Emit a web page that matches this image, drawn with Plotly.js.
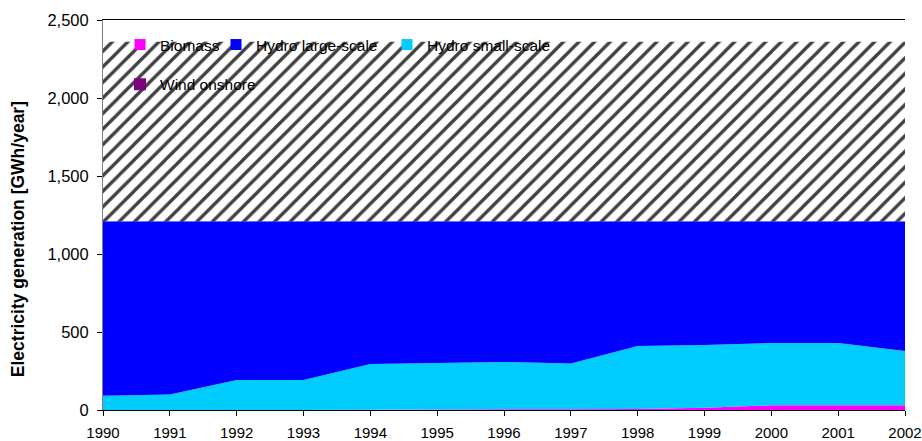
<!DOCTYPE html>
<html>
<head>
<meta charset="utf-8">
<script src="https://cdn.plot.ly/plotly-3.0.1.min.js"></script>
<style>html,body{margin:0;padding:0;background:#fff;}#chart{width:922px;height:441px;}</style>
</head>
<body>
<div id="chart"></div>
<script>
const years = [1990,1991,1992,1993,1994,1995,1996,1997,1998,1999,2000,2001,2002];
const biomass = [0,0,0,0,1,3,5,5,7,15,30,30,30];
const windOnshore = [0,0,0,0,0,0,0,0,0,0,0,0,0];
const hydroSmall = [92,100,192,192,294,298,303,293,403,402,400,400,348];
const hydroLarge = [1118,1110,1018,1018,915,909,902,912,800,793,780,780,832];
const potential = [1150,1150,1150,1150,1150,1150,1150,1150,1150,1150,1150,1150,1150];
const yTicks = [0,500,1000,1500,2000,2500];
const yTitle = 'Electricity generation [GWh/year]';

const FONT = 'Liberation Sans, Arial, sans-serif';
const colors = {biomass:'#FF00FF', large:'#0000FF', small:'#00CCFF', wind:'#800080'};

function area(name, y, color, extra) {
  return Object.assign({
    type:'scatter', x:years, y:y, name:name, stackgroup:'one', mode:'none',
    fillcolor:color, showlegend:false, hoverinfo:'skip', line:{width:0}
  }, extra || {});
}
function legendItem(name, color, legendId, size) {
  return {type:'scatter', x:[null], y:[null], mode:'markers', name:name,
    marker:{symbol:'square', color:color, size:size}, legend:legendId, showlegend:true};
}

const data = [
  area('Biomass', biomass, colors.biomass),
  area('Wind onshore', windOnshore, colors.wind),
  area('Hydro small-scale', hydroSmall, colors.small),
  area('Hydro large-scale', hydroLarge, colors.large),
  area('Potential', potential, '#ffffff', {fillpattern:{shape:'/', size:11, solidity:0.3, fgcolor:'#404040', bgcolor:'#ffffff'}}),
  legendItem('Biomass', colors.biomass, 'legend', 11),
  legendItem('Hydro large-scale', colors.large, 'legend2', 11),
  legendItem('Hydro small-scale', colors.small, 'legend3', 11),
  legendItem('Wind onshore', colors.wind, 'legend4', 12)
];

function lg(x, y) {
  return {x:x, y:y, xanchor:'left', yanchor:'middle', bgcolor:'rgba(0,0,0,0)', borderwidth:0,
    font:{family:FONT, size:15.5, color:'#000'}, itemclick:false};
}

const layout = {
  width:922, height:441,
  margin:{l:103, r:17, t:20, b:31},
  paper_bgcolor:'#fff', plot_bgcolor:'#fff',
  font:{family:FONT, size:15, color:'#000'},
  xaxis:{range:[1990,2002], tickvals:years, ticktext:years.map(String), showgrid:false, zeroline:false,
    showline:true, linecolor:'#000', linewidth:1, mirror:true, ticks:'outside', ticklen:5, tickcolor:'#000',
    ticklabelstandoff:4, tickfont:{family:FONT, size:15, color:'#000'}},
  yaxis:{range:[0,2500], tickvals:yTicks, tickformat:',d', showgrid:false, zeroline:false,
    showline:true, linecolor:'#808080', linewidth:1, ticks:'outside', ticklen:5, tickcolor:'#000',
    ticklabelstandoff:5,
    tickfont:{family:FONT, size:16.5, color:'#000'}},
  annotations:[{text:'<b>' + yTitle + '</b>', textangle:-90, xref:'paper', yref:'paper',
    x:-0.106, y:0.438, xanchor:'center', yanchor:'middle', showarrow:false,
    font:{family:FONT, size:17.5, color:'#000'}}],
  legend: lg(0.0212, 0.936),
  legend2: lg(0.1409, 0.936),
  legend3: lg(0.3541, 0.936),
  legend4: lg(0.0212, 0.834),
  showlegend:true
};

Plotly.newPlot('chart', data, layout, {displayModeBar:false, staticPlot:true});
</script>
</body>
</html>
